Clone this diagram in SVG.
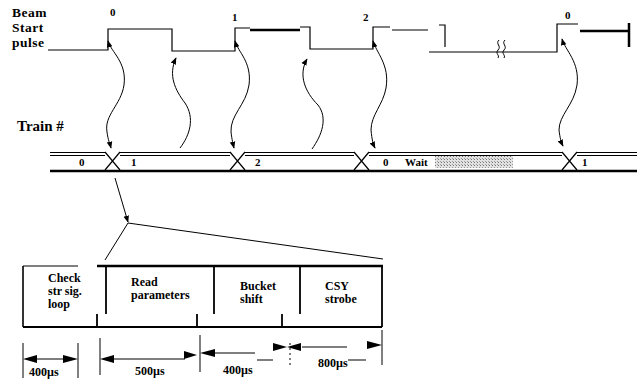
<svg xmlns="http://www.w3.org/2000/svg" width="637" height="379" viewBox="0 0 637 379">
<style>
.t{font-family:"Liberation Serif","Times New Roman",serif;font-weight:bold;fill:#000}
.big{font-size:15px}
.hd{font-size:13.5px;letter-spacing:0.5px}
.sm{font-size:11px}
.bx{font-size:12px}
.ln{stroke:#000;fill:none;stroke-width:1.2}
.th{stroke:#000;fill:none;stroke-width:2.5}
.cv{stroke:#000;fill:none;stroke-width:1}
</style>
<defs>
<marker id="ah" viewBox="0 0 10 10" refX="9" refY="5" markerWidth="7" markerHeight="7" orient="auto-start-reverse" markerUnits="userSpaceOnUse"><path d="M0,1 L10,5 L0,9 z" fill="#000"/></marker>
<pattern id="stip" width="3" height="3" patternUnits="userSpaceOnUse"><rect width="3" height="3" fill="#e2e2e2"/><rect width="1" height="1" fill="#777"/><rect x="2" y="2" width="1" height="1" fill="#999"/></pattern>
</defs>

<g id="labels">
<text class="t hd" x="12" y="17">Beam</text>
<text class="t hd" x="12" y="32">Start</text>
<text class="t hd" x="12" y="46.5">pulse</text>
<text class="t big" x="17" y="131">Train #</text>
</g>

<g id="beam-pulse">
<path class="ln" d="M48,50 L108,50 L108,29 L172,29 L172,51 L235,51 L235,28 L250,28"/>
<path class="th" d="M250,30 L300,30"/>
<path class="ln" d="M300,27 L310,27 L310,49 L373,49 L373,27 L390,27"/>
<path class="ln" d="M392,30 L428,30"/>
<path class="ln" d="M439,25 L445,25 L445,47"/>
<path class="ln" d="M429,52 L557,52 L557,24 L578,24"/>
<path class="th" d="M580,31 L628,31 M629,23 L629,47"/>
<path class="cv" d="M499,40 C495,44 502,46 498,50 C495,54 500,55 498,58 M505,40 C501,44 508,46 504,50 C501,54 506,55 504,58"/>
<text class="t sm" x="110" y="16">0</text>
<text class="t sm" x="232" y="21">1</text>
<text class="t sm" x="363" y="21">2</text>
<text class="t sm" x="565" y="19">0</text>
</g>

<g id="train-line">
<path class="cv" d="M50,152.5 L105,152.5 M50,155.5 L105,155.5 M120,152.5 L230,152.5 M120,155.5 L230,155.5 M245,152.5 L354,152.5 M245,155.5 L354,155.5 M369,152.5 L562,152.5 M369,155.5 L562,155.5 M577,152.5 L637,152.5 M577,155.5 L637,155.5"/>
<rect x="435" y="156" width="78" height="12" fill="url(#stip)"/>
<path class="th" d="M50,171 L637,171"/>
<path class="ln" d="M105,152 L120,170 M105,170 L120,152 M230,152 L245,170 M230,170 L245,152 M354,152 L369,170 M354,170 L369,152 M562,152 L577,170 M562,170 L577,152"/>
<text class="t sm" x="79" y="166">0</text>
<text class="t sm" x="131" y="166">1</text>
<text class="t sm" x="255" y="166">2</text>
<text class="t sm" x="383" y="166">0</text>
<text class="t sm" x="405" y="166">Wait</text>
<text class="t sm" x="582" y="166">1</text>
</g>

<g id="connectors">
<path class="cv" marker-start="url(#ah)" marker-end="url(#ah)" d="M108,41 C111,52 127,62 124,85 C121,105 104,115 107,132 C108,140 110,144 111,148"/>
<path class="cv" marker-end="url(#ah)" d="M180,148 C190,135 195,118 185,103 C175,90 168,75 176,58"/>
<path class="cv" marker-start="url(#ah)" marker-end="url(#ah)" d="M235,41 C238,52 252,62 249,85 C246,105 230,115 231,132 C232,140 233,144 234,148"/>
<path class="cv" marker-end="url(#ah)" d="M312,149 C322,135 328,118 318,105 C305,92 298,75 307,59"/>
<path class="cv" marker-start="url(#ah)" marker-end="url(#ah)" d="M373,41 C376,52 390,65 386,88 C383,105 371,115 371,130 C372,140 373,144 375,148"/>
<path class="cv" marker-start="url(#ah)" marker-end="url(#ah)" d="M562,39 C565,50 580,62 577,85 C574,105 559,115 559,130 C560,138 561,142 563,146"/>
<path class="cv" marker-end="url(#ah)" d="M115,178 L128,222"/>
<path class="cv" d="M105,260 L128,223 L383,259"/>
</g>

<g id="check-box">
<path class="cv" d="M23,266 L78,266"/>
<path class="ln" style="stroke-width:1.6" d="M23,266 L23,327"/>
<text class="t bx" x="48" y="282">Check</text>
<text class="t bx" x="48" y="295">str sig.</text>
<text class="t bx" x="48" y="308">loop</text>
</g>

<g id="frame">
<path class="th" d="M97,266 L383,266"/>
<path class="ln" style="stroke-width:2" d="M23,327 L382,327"/>
<path class="ln" style="stroke-width:1.8" d="M97,314 L97,327 M197,314 L197,327 M282,314 L282,327 M382,266 L382,327"/>
</g>

<g id="read-box">
<path class="ln" style="stroke-width:1.8" d="M106,266 L106,314"/>
<text class="t bx" x="131" y="286">Read</text>
<text class="t bx" x="131" y="299">parameters</text>
</g>

<g id="bucket-box">
<path class="ln" style="stroke-width:1.8" d="M214,266 L214,314"/>
<text class="t bx" x="240" y="290">Bucket</text>
<text class="t bx" x="240" y="303">shift</text>
</g>

<g id="csy-box">
<path class="ln" style="stroke-width:1.8" d="M300,266 L300,314"/>
<text class="t bx" x="325" y="290">CSY</text>
<text class="t bx" x="325" y="303">strobe</text>
</g>

<g id="dimensions">
<path class="cv" d="M23,343 L23,378 M78,343 L78,378 M100,338 L100,375 M200,335 L200,372 M382,330 L382,365"/>
<path class="cv" stroke-dasharray="2,3" d="M290,343 L290,368"/>
<path class="ln" d="M37,359 L63,359 M114,359 L185,359 M215,353 L255,353 M257,360 L273,360 M302,347 L347,347 M348,360 L366,360"/>
<polygon points="23,359 37,355 37,363"/>
<polygon points="78,359 63,355 63,363"/>
<polygon points="100,359 114,355 114,363"/>
<polygon points="197,355 184,351 184,359"/>
<polygon points="200,353 215,349 215,357"/>
<polygon points="287,347 273,343 273,351"/>
<polygon points="287,347 301,343 301,351"/>
<polygon points="382,345 367,341 367,349"/>
<text class="t bx" x="29" y="376">400µs</text>
<text class="t bx" x="135" y="375">500µs</text>
<text class="t bx" x="223" y="374">400µs</text>
<text class="t bx" x="318" y="367">800µs</text>
</g>
</svg>
